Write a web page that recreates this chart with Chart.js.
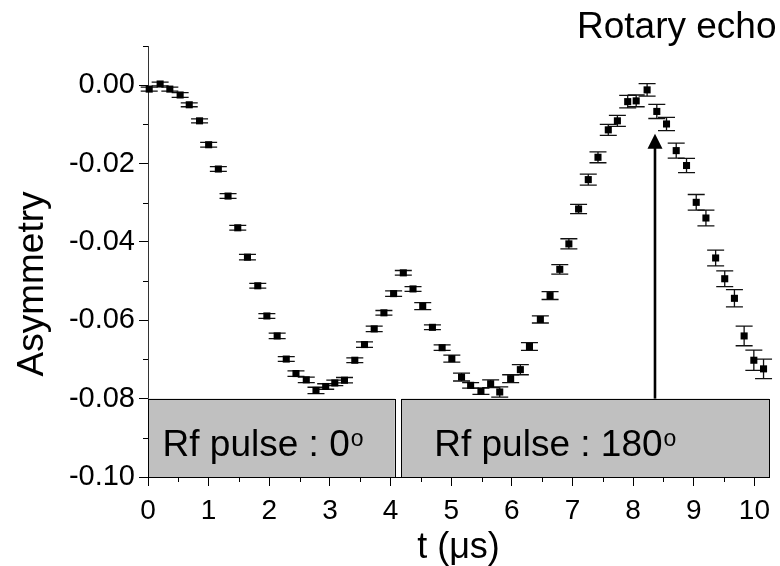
<!DOCTYPE html>
<html>
<head>
<meta charset="utf-8">
<script src="https://cdn.jsdelivr.net/npm/chart.js@4.4.0/dist/chart.umd.min.js"></script>
<style>
  html, body { margin: 0; padding: 0; background: #fff; }
</style>
</head>
<body>
<canvas id="chart" width="780" height="566"></canvas>
<script>
// Rotary echo data: time (us), asymmetry and its error
const times = [
  0.02, 0.20, 0.36, 0.53, 0.68, 0.85, 1.00, 1.16, 1.32, 1.48,
  1.64, 1.81, 1.96, 2.13, 2.28, 2.44, 2.61, 2.77, 2.93, 3.08,
  3.24, 3.41, 3.57, 3.73, 3.89, 4.05, 4.21, 4.37, 4.53, 4.69,
  4.85, 5.01, 5.17, 5.32, 5.49, 5.65, 5.80, 5.98, 6.14, 6.29,
  6.47, 6.63, 6.79, 6.94, 7.10, 7.26, 7.42, 7.59, 7.74, 7.91,
  8.05, 8.23, 8.39, 8.55, 8.71, 8.88, 9.04, 9.20, 9.36, 9.51,
  9.67, 9.83, 9.99, 10.15
];
const asymmetry = [
  -0.0010, 0.0003, -0.0010, -0.0025, -0.0050, -0.0091, -0.0152, -0.0214, -0.0283, -0.0364,
  -0.0439, -0.0512, -0.0589, -0.0640, -0.0699, -0.0736, -0.0752, -0.0779, -0.0769, -0.0760,
  -0.0753, -0.0702, -0.0662, -0.0622, -0.0581, -0.0532, -0.0479, -0.0520, -0.0564, -0.0618,
  -0.0670, -0.0698, -0.0745, -0.0766, -0.0781, -0.0762, -0.0783, -0.0749, -0.0726, -0.0667,
  -0.0598, -0.0537, -0.0470, -0.0405, -0.0316, -0.0241, -0.0184, -0.0114, -0.0091, -0.0042,
  -0.0040, -0.0012, -0.0067, -0.0099, -0.0167, -0.0205, -0.0299, -0.0339, -0.0441, -0.0494,
  -0.0544, -0.0640, -0.0702, -0.0724
];
const errors = [
  0.0005, 0.0005, 0.0005, 0.0006, 0.0005, 0.0005, 0.0006, 0.0006, 0.0006, 0.0006,
  0.0007, 0.0006, 0.0006, 0.0007, 0.0006, 0.0007, 0.0007, 0.0008, 0.0007, 0.0007,
  0.0007, 0.0006, 0.0007, 0.0007, 0.0006, 0.0007, 0.0006, 0.0006, 0.0009, 0.0006,
  0.0007, 0.0009, 0.0010, 0.0007, 0.0008, 0.0010, 0.0013, 0.0010, 0.0013, 0.0010,
  0.0009, 0.0010, 0.0012, 0.0013, 0.0012, 0.0014, 0.0014, 0.0014, 0.0014, 0.0016,
  0.0015, 0.0016, 0.0018, 0.0017, 0.0019, 0.0018, 0.0020, 0.0020, 0.0020, 0.0020,
  0.0022, 0.0025, 0.0026, 0.0025
];

const xMajorTicks = [0, 1, 2, 3, 4, 5, 6, 7, 8, 9, 10];
const xMinorTicks = [0.5, 1.5, 2.5, 3.5, 4.5, 5.5, 6.5, 7.5, 8.5, 9.5];
const yMajorTicks = [-0.10, -0.08, -0.06, -0.04, -0.02, 0.00];
const yMinorTicks = [-0.09, -0.07, -0.05, -0.03, -0.01, 0.01];

// Rf pulse boxes (time ranges) and their labels
const pulseStarts = [0, 4.18];
const pulseEnds = [4.07, 10.24];
const pulseLabels = ['Rf pulse : 0', 'Rf pulse : 180'];
const pulseLabelT = [0.24, 4.72];
const pulseBoxRange = [-0.10, -0.08];
const pulseLabelY = -0.0947;

// echo arrow
const arrowT = 8.36;
const arrowFrom = -0.08;
const arrowTo = -0.0124;

const FONT = "'Liberation Sans', Arial, sans-serif";

const decorations = {
  id: 'decorations',
  beforeDatasetsDraw(chart) {
    const { ctx, scales: { x, y } } = chart;
    ctx.save();
    // grey pulse boxes
    const yTop = y.getPixelForValue(pulseBoxRange[1]);
    const yBot = y.getPixelForValue(pulseBoxRange[0]);
    pulseStarts.forEach((s, i) => {
      const x0 = x.getPixelForValue(s);
      const x1 = x.getPixelForValue(pulseEnds[i]);
      ctx.fillStyle = '#c0c0c0';
      ctx.fillRect(x0, yTop, x1 - x0, yBot - yTop);
      ctx.strokeStyle = '#000';
      ctx.lineWidth = 1;
      ctx.strokeRect(Math.round(x0) + 0.5, Math.round(yTop) + 0.5, Math.round(x1 - x0), Math.round(yBot - yTop));
    });
    // error bars
    ctx.strokeStyle = '#111';
    ctx.lineWidth = 1.3;
    times.forEach((t, i) => {
      const px = x.getPixelForValue(t);
      const yHi = y.getPixelForValue(asymmetry[i] + errors[i]);
      const yLo = y.getPixelForValue(asymmetry[i] - errors[i]);
      ctx.beginPath();
      ctx.moveTo(px, yHi); ctx.lineTo(px, yLo);
      ctx.moveTo(px - 8.5, yHi); ctx.lineTo(px + 8.5, yHi);
      ctx.moveTo(px - 8.5, yLo); ctx.lineTo(px + 8.5, yLo);
      ctx.stroke();
    });
    ctx.restore();
  },
  afterDatasetsDraw(chart) {
    const { ctx, scales: { x, y } } = chart;
    ctx.save();
    // pulse labels with degree-like superscript "o"
    ctx.fillStyle = '#000';
    ctx.textBaseline = 'alphabetic';
    ctx.textAlign = 'left';
    const ly = y.getPixelForValue(pulseLabelY);
    pulseLabels.forEach((lab, i) => {
      const lx = x.getPixelForValue(pulseLabelT[i]);
      ctx.font = '37px ' + FONT;
      ctx.fillText(lab, lx, ly);
      const w = ctx.measureText(lab).width;
      ctx.font = '23px ' + FONT;
      ctx.fillText('o', lx + w + 1, ly - 10);
    });

    // arrow
    const ax = x.getPixelForValue(arrowT);
    const ay0 = y.getPixelForValue(arrowFrom);
    const ay1 = y.getPixelForValue(arrowTo);
    ctx.strokeStyle = '#000';
    ctx.lineWidth = 2.6;
    ctx.beginPath();
    ctx.moveTo(ax, ay0);
    ctx.lineTo(ax, ay1 + 12);
    ctx.stroke();
    ctx.beginPath();
    ctx.moveTo(ax, ay1);
    ctx.lineTo(ax - 7.5, ay1 + 15);
    ctx.lineTo(ax + 7.5, ay1 + 15);
    ctx.closePath();
    ctx.fill();

    // minor ticks
    ctx.lineWidth = 1;
    ctx.strokeStyle = '#000';
    ctx.beginPath();
    xMinorTicks.forEach(v => {
      const px = Math.round(x.getPixelForValue(v)) + 0.5;
      ctx.moveTo(px, x.top); ctx.lineTo(px, x.top + 5);
    });
    yMinorTicks.forEach(v => {
      const py = Math.round(y.getPixelForValue(v)) + 0.5;
      ctx.moveTo(y.right, py); ctx.lineTo(y.right - 5, py);
    });
    ctx.stroke();

    // y axis title
    ctx.save();
    ctx.translate(43, 284);
    ctx.rotate(-Math.PI / 2);
    ctx.font = '37px ' + FONT;
    ctx.textAlign = 'center';
    ctx.textBaseline = 'alphabetic';
    ctx.fillText('Asymmetry', 0, 0);
    ctx.restore();

    // top right caption
    ctx.font = '37px ' + FONT;
    ctx.textAlign = 'left';
    ctx.fillText('Rotary echo', 577, 38);
    ctx.restore();
  }
};

new Chart(document.getElementById('chart'), {
  type: 'scatter',
  data: {
    datasets: [{
      label: 'Asymmetry',
      data: times.map((t, i) => ({ x: t, y: asymmetry[i] })),
      pointStyle: 'rect',
      pointRadius: 5,
      pointHoverRadius: 5,
      backgroundColor: '#000',
      borderColor: '#000',
      borderWidth: 0,
      clip: false
    }]
  },
  options: {
    responsive: false,
    animation: false,
    devicePixelRatio: 1,
    layout: { padding: { top: 46, right: 11, left: 0, bottom: 0 } },
    plugins: { legend: { display: false }, tooltip: { enabled: false } },
    scales: {
      x: {
        type: 'linear',
        min: 0,
        max: 10.24,
        afterBuildTicks: s => { s.ticks = xMajorTicks.map(v => ({ value: v })); },
        afterFit: s => { s.height = 89; },
        grid: { display: true, drawOnChartArea: false, drawTicks: true, tickLength: 9, color: '#000' },
        border: { display: true, color: '#000', width: 1 },
        ticks: { color: '#000', font: { family: FONT, size: 28 }, padding: 8, maxRotation: 0, callback: v => String(v) },
        title: { display: true, text: 't (μs)', color: '#000', font: { family: FONT, size: 36, lineHeight: 1 }, padding: { top: 0, bottom: 0 } }
      },
      y: {
        type: 'linear',
        min: -0.10,
        max: 0.01,
        afterBuildTicks: s => { s.ticks = yMajorTicks.map(v => ({ value: v })); },
        afterFit: s => { s.width = 148; },
        grid: { display: true, drawOnChartArea: false, drawTicks: true, tickLength: 9, color: '#000' },
        border: { display: true, color: '#333', width: 1 },
        ticks: { color: '#000', font: { family: FONT, size: 29 }, padding: 4, callback: v => v.toFixed(2) }
      }
    }
  },
  plugins: [decorations]
});
</script>
</body>
</html>
